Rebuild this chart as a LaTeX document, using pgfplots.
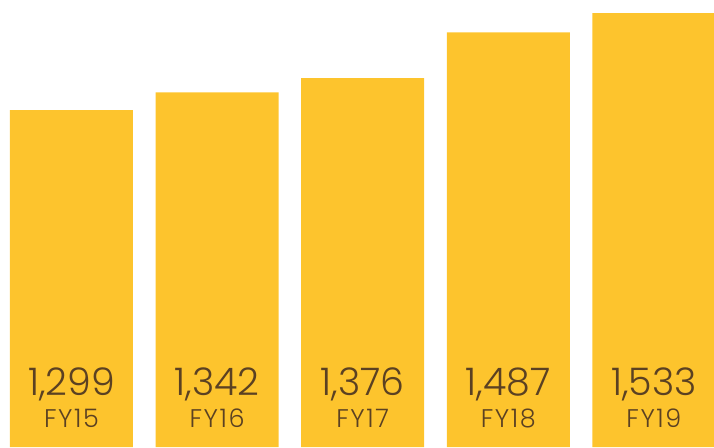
\documentclass[border=0pt]{standalone}
\usepackage{fontspec}
\setmainfont{Poppins Light}
\newfontfamily\fyfont{Poppins Light}[LetterSpace=6]
\usepackage{pgfplots}
\pgfplotsset{compat=1.18}
\definecolor{baryellow}{HTML}{FDC42D}
\definecolor{labelbrown}{HTML}{5B4122}
\begin{document}
\begin{tikzpicture}
\begin{axis}[
  scale only axis,
  width=714pt, height=447pt,
  xmin=-0.491, xmax=4.413,
  ymin=484.5, ymax=1565,
  axis lines=none, ticks=none,
  ybar, bar width=123pt, bar shift=0pt,
  clip=true,
]
\addplot[fill=baryellow, draw=none] coordinates {(0,1299) (1,1342) (2,1376) (3,1487) (4,1533)};
\foreach \i/\v/\n in {0/1{,}299/FY15, 1/1{,}342/FY16, 2/1{,}376/FY17, 3/1{,}487/FY18, 4/1{,}533/FY19} {
  \edef\temp{\noexpand\node[anchor=base, text=labelbrown, font=\noexpand\fontsize{38}{40}\noexpand\selectfont, yshift=52pt] at (axis cs:\i,484.5) {\v};
  \noexpand\node[anchor=base, text=labelbrown, font=\noexpand\fyfont\noexpand\fontsize{25.5}{27}\noexpand\selectfont, yshift=20pt] at (axis cs:\i,484.5) {\n};}
  \temp
}
\end{axis}
\pgfresetboundingbox
\path[use as bounding box] (current axis.south west) rectangle (current axis.north east);
\end{tikzpicture}
\end{document}
